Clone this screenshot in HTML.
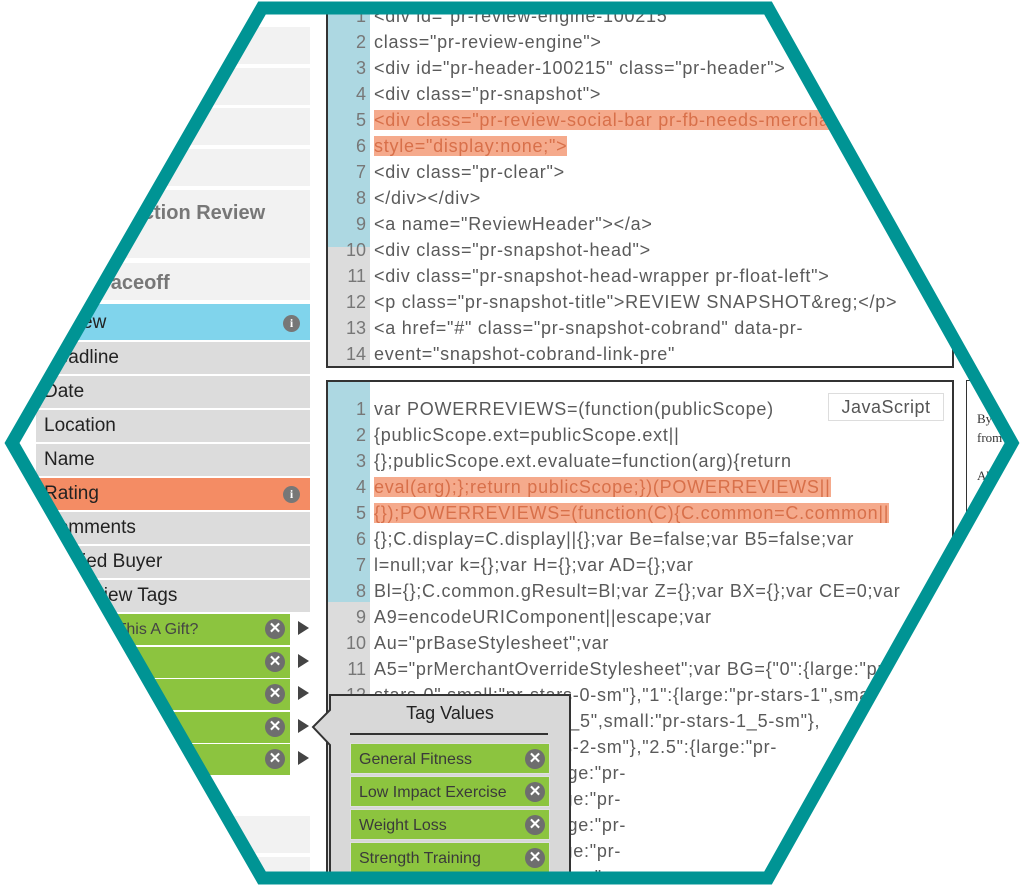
<!DOCTYPE html>
<html><head><meta charset="utf-8"><style>
html,body{margin:0;width:1025px;height:887px;overflow:hidden}
body{background:#fff;font-family:"Liberation Sans",sans-serif;position:relative}
.a{position:absolute}
.r{position:absolute;left:36px;width:274px;font-size:19px;color:#222;box-sizing:border-box;padding-left:8px;line-height:32px}
.lg{background:#f2f2f2}.dg{background:#dcdcdc}
.gr{position:absolute;left:36px;width:254px;height:31px;background:#8cc43f;color:#444;font-size:16px;line-height:31px;padding-left:8px;box-sizing:border-box}
.x{position:absolute;width:20px;height:20px;border-radius:50%;background:#6e6e6e;color:#fff;font-size:15px;line-height:20px;text-align:center;font-weight:bold}
.ar{position:absolute;left:298px;width:0;height:0;border-left:11px solid #444;border-top:7px solid transparent;border-bottom:7px solid transparent}
.info{position:absolute;width:17px;height:17px;border-radius:50%;background:#777;color:#fff;font-size:12px;line-height:17px;text-align:center;font-weight:bold;font-family:"Liberation Serif",serif}
.box{position:absolute;border:2px solid #333;background:#fff;overflow:hidden}
.ln{position:absolute;left:0;height:26px;line-height:26px;font-size:18px;letter-spacing:0.75px;color:#5a5a5a;white-space:nowrap;width:900px}
.ln b{display:inline-block;width:38px;text-align:right;font-weight:normal;color:#777;margin-right:8px;letter-spacing:0}
.hl{background:#f5aa8c;color:#d8704a}
.tv{position:absolute;left:350px;width:200px;height:31px;background:#8cc43f;color:#3a3a3a;font-size:16px;line-height:31px;padding-left:8px;box-sizing:border-box;border:1px solid #e0e0e0}
</style></head><body>
<div class="r lg" style="top:27px;height:37px"></div>
<div class="r lg" style="top:68px;height:37px"></div>
<div class="r lg" style="top:108px;height:37px"></div>
<div class="r lg" style="top:149px;height:37px"></div>
<div class="r lg" style="top:190px;height:68px;font-weight:bold;color:#777;line-height:46px;font-size:20px">&nbsp;&nbsp;&nbsp;&nbsp;Construction Review</div>
<div class="r lg" style="top:263px;height:37px;font-weight:bold;color:#777;line-height:40px;font-size:20px;padding-left:0;text-indent:-12px">Review Faceoff</div>
<div class="r" style="top:304px;height:36px;background:#80d4ec;line-height:38px">Review</div>
<div class="info" style="left:283px;top:315px">i</div>
<div class="r dg" style="top:342px;height:32px">Headline</div>
<div class="r dg" style="top:376px;height:32px">Date</div>
<div class="r dg" style="top:410px;height:32px">Location</div>
<div class="r dg" style="top:444px;height:32px">Name</div>
<div class="r" style="top:478px;height:32px;background:#f48c64">Rating</div>
<div class="info" style="left:283px;top:486px">i</div>
<div class="r dg" style="top:512px;height:32px">Comments</div>
<div class="r dg" style="top:546px;height:32px">Verified Buyer</div>
<div class="r dg" style="top:580px;height:32px;padding-left:34px">Review Tags</div>
<div class="gr" style="top:614px;padding-left:64px">Is This A Gift?</div>
<div class="gr" style="top:647px"></div>
<div class="gr" style="top:679px"></div>
<div class="gr" style="top:712px"></div>
<div class="gr" style="top:744px"></div>
<div class="x" style="left:265px;top:619px">✕</div>
<div class="x" style="left:265px;top:652px">✕</div>
<div class="x" style="left:265px;top:684px">✕</div>
<div class="x" style="left:265px;top:717px">✕</div>
<div class="x" style="left:265px;top:749px">✕</div>
<div class="ar" style="top:621px"></div><div class="ar" style="top:654px"></div><div class="ar" style="top:686px"></div><div class="ar" style="top:719px"></div><div class="ar" style="top:751px"></div>
<div class="r lg" style="top:816px;height:37px"></div>
<div class="r lg" style="top:857px;height:28px"></div>

<div class="box" style="left:326px;top:-4px;width:624px;height:368px">
<div class="a" style="left:0;top:0;width:42px;height:249px;background:#add8e2"></div>
<div class="a" style="left:0;top:249px;width:42px;height:130px;background:#dcdcdc"></div>
<div class="ln" style="top:5px"><b>1</b>&lt;div id="pr-review-engine-100215"</div>
<div class="ln" style="top:31px"><b>2</b>class="pr-review-engine"&gt;</div>
<div class="ln" style="top:57px"><b>3</b>&lt;div id="pr-header-100215" class="pr-header"&gt;</div>
<div class="ln" style="top:83px"><b>4</b>&lt;div class="pr-snapshot"&gt;</div>
<div class="ln" style="top:109px"><b>5</b><span class="hl" style="padding-right:200px">&lt;div class="pr-review-social-bar pr-fb-needs-merchant"</span></div>
<div class="ln" style="top:135px"><b>6</b><span class="hl">style="display:none;"&gt;</span></div>
<div class="ln" style="top:161px"><b>7</b>&lt;div class="pr-clear"&gt;</div>
<div class="ln" style="top:187px"><b>8</b>&lt;/div&gt;&lt;/div&gt;</div>
<div class="ln" style="top:213px"><b>9</b>&lt;a name="ReviewHeader"&gt;&lt;/a&gt;</div>
<div class="ln" style="top:239px"><b>10</b>&lt;div class="pr-snapshot-head"&gt;</div>
<div class="ln" style="top:265px"><b>11</b>&lt;div class="pr-snapshot-head-wrapper pr-float-left"&gt;</div>
<div class="ln" style="top:291px"><b>12</b>&lt;p class="pr-snapshot-title"&gt;REVIEW SNAPSHOT&amp;reg;&lt;/p&gt;</div>
<div class="ln" style="top:317px"><b>13</b>&lt;a href="#" class="pr-snapshot-cobrand" data-pr-</div>
<div class="ln" style="top:343px"><b>14</b>event="snapshot-cobrand-link-pre"</div>
</div>

<div class="box" style="left:326px;top:380px;width:624px;height:503px">
<div class="a" style="left:0;top:0;width:42px;height:220px;background:#add8e2"></div>
<div class="a" style="left:0;top:220px;width:42px;height:300px;background:#dcdcdc"></div>
<div class="ln" style="top:14px"><b>1</b>var POWERREVIEWS=(function(publicScope)</div>
<div class="ln" style="top:40px"><b>2</b>{publicScope.ext=publicScope.ext||</div>
<div class="ln" style="top:66px"><b>3</b>{};publicScope.ext.evaluate=function(arg){return</div>
<div class="ln" style="top:92px"><b>4</b><span class="hl">eval(arg);};return publicScope;})(POWERREVIEWS||</span></div>
<div class="ln" style="top:118px"><b>5</b><span class="hl">{});POWERREVIEWS=(function(C){C.common=C.common||</span></div>
<div class="ln" style="top:144px"><b>6</b>{};C.display=C.display||{};var Be=false;var B5=false;var</div>
<div class="ln" style="top:170px"><b>7</b>l=null;var k={};var H={};var AD={};var</div>
<div class="ln" style="top:196px"><b>8</b>Bl={};C.common.gResult=Bl;var Z={};var BX={};var CE=0;var</div>
<div class="ln" style="top:222px"><b>9</b>A9=encodeURIComponent||escape;var</div>
<div class="ln" style="top:248px"><b>10</b>Au="prBaseStylesheet";var</div>
<div class="ln" style="top:274px"><b>11</b>A5="prMerchantOverrideStylesheet";var BG={"0":{large:"pr-</div>
<div class="ln" style="top:300px"><b>12</b>stars-0",small:"pr-stars-0-sm"},"1":{large:"pr-stars-1",small:"pr-</div>
<div class="ln" style="top:326px"><b>13</b>"1.5":{large:"pr-stars-1_5",small:"pr-stars-1_5-sm"},</div>
<div class="ln" style="top:352px"><b>14</b>stars-2",small:"pr-stars-2-sm"},"2.5":{large:"pr-</div>
<div class="ln" style="top:378px"><b>15</b>stars-2_5-sm"},"3":{large:"pr-</div>
<div class="ln" style="top:404px"><b>16</b>stars-3-sm"},"3.5":{large:"pr-</div>
<div class="ln" style="top:430px"><b>17</b>stars-3_5-sm"},"4":{large:"pr-</div>
<div class="ln" style="top:456px"><b>18</b>stars-4-sm"},"4.5":{large:"pr-</div>
<div class="ln" style="top:482px"><b>19</b>stars-4_5-sm"},"5":{large:"pr-</div>
<div class="a" style="left:500px;top:11px;width:114px;height:26px;border:1px solid #ddd;background:#fff;color:#555;font-size:18px;line-height:26px;text-align:center;letter-spacing:0.5px">JavaScript</div>
</div>

<div class="box" style="left:966px;top:380px;width:56px;height:503px;border-width:1px">
<div class="a" style="left:10px;top:28px;font-family:'Liberation Serif',serif;font-size:13px;color:#333;line-height:19px;white-space:nowrap">By Someone<br>from Somewhere<br><br>About</div>
</div>

<svg class="a" style="left:0;top:0" width="1025" height="887">
<path d="M330,695 L570,695 L570,890 L330,890 L330,745 L313,727 L330,710 Z" fill="#d8d8d8" stroke="#333" stroke-width="2"/>
<line x1="350" y1="734" x2="548" y2="734" stroke="#333" stroke-width="2"/>
</svg>
<div class="a" style="left:330px;top:703px;width:240px;text-align:center;font-size:18px;color:#222">Tag Values</div>
<div class="tv" style="top:743px">General Fitness</div>
<div class="tv" style="top:776px">Low Impact Exercise</div>
<div class="tv" style="top:809px">Weight Loss</div>
<div class="tv" style="top:842px">Strength Training</div>
<div class="x" style="left:525px;top:749px">✕</div>
<div class="x" style="left:525px;top:782px">✕</div>
<div class="x" style="left:525px;top:815px">✕</div>
<div class="x" style="left:525px;top:848px">✕</div>

<svg class="a" style="left:0;top:0;z-index:10" width="1025" height="887">
<polygon points="0,0 262,0 262,8 12,443 262,878 262,887 0,887" fill="#ffffff"/>
<polygon points="768,0 1025,0 1025,887 768,887 768,878 1012,443 768,8" fill="#ffffff"/>
<rect x="0" y="0" width="1025" height="8" fill="#ffffff"/>
<rect x="0" y="878" width="1025" height="9" fill="#ffffff"/>
<polygon points="262,8 768,8 1012,443 768,878 262,878 12,443" fill="none" stroke="#009494" stroke-width="13"/>
</svg>
</body></html>
